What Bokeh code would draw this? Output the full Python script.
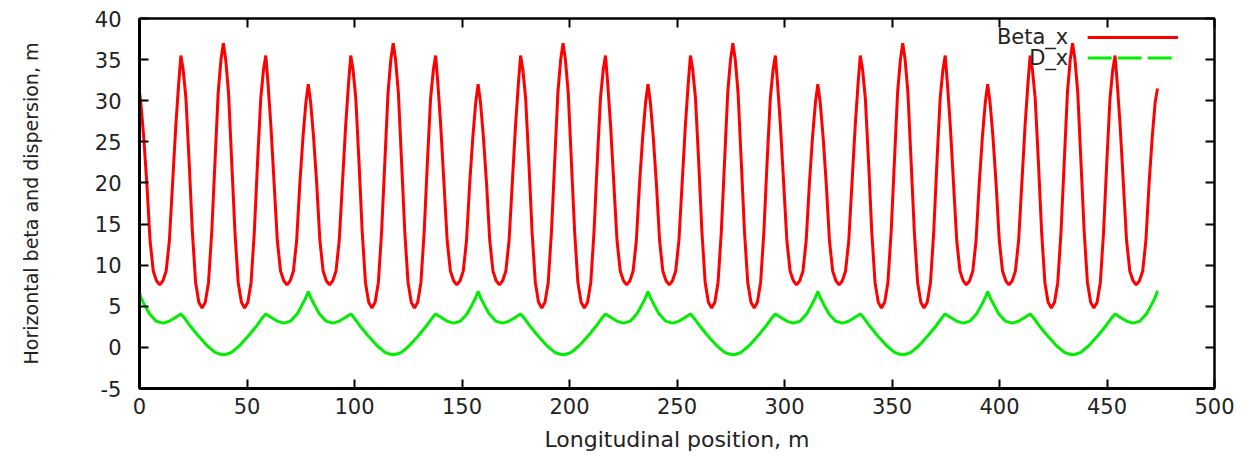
from bokeh.plotting import figure
from bokeh.models import Range1d, LinearAxis, FixedTicker, Label, Arrow
from bokeh.embed import file_html
from bokeh.resources import INLINE

# ---------------- data ----------------
x_ticks = [0, 50, 100, 150, 200, 250, 300, 350, 400, 450, 500]
y_ticks = [-5, 0, 5, 10, 15, 20, 25, 30, 35, 40]

# Horizontal beta function, m
beta_s = [
    0.0,
    0.6, 1.9, 3.4, 4.9, 6.4, 7.9, 9.4, 10.9, 12.4, 13.9, 15.4, 16.9, 18.2, 19.25,
    20.3, 21.6, 23.1, 24.6, 26.1, 27.6, 29.1, 30.6, 32.1, 33.6, 35.1, 36.6, 37.9, 39.0,
    40.1, 41.4, 42.9, 44.4, 45.9, 47.4, 48.9, 50.4, 51.9, 53.4, 54.9, 56.4, 57.7, 58.75,
    59.8, 61.1, 62.6, 64.1, 65.6, 67.1, 68.6, 70.1, 71.6, 73.1, 74.6, 76.1, 77.4, 78.5,
    79.6, 80.9, 82.4, 83.9, 85.4, 86.9, 88.4, 89.9, 91.4, 92.9, 94.4, 95.9, 97.2, 98.25,
    99.3, 100.6, 102.1, 103.6, 105.1, 106.6, 108.1, 109.6, 111.1, 112.6, 114.1, 115.6, 116.9, 118.0,
    119.1, 120.4, 121.9, 123.4, 124.9, 126.4, 127.9, 129.4, 130.9, 132.4, 133.9, 135.4, 136.7, 137.75,
    138.8, 140.1, 141.6, 143.1, 144.6, 146.1, 147.6, 149.1, 150.6, 152.1, 153.6, 155.1, 156.4, 157.5,
    158.6, 159.9, 161.4, 162.9, 164.4, 165.9, 167.4, 168.9, 170.4, 171.9, 173.4, 174.9, 176.2, 177.25,
    178.3, 179.6, 181.1, 182.6, 184.1, 185.6, 187.1, 188.6, 190.1, 191.6, 193.1, 194.6, 195.9, 197.0,
    198.1, 199.4, 200.9, 202.4, 203.9, 205.4, 206.9, 208.4, 209.9, 211.4, 212.9, 214.4, 215.7, 216.75,
    217.8, 219.1, 220.6, 222.1, 223.6, 225.1, 226.6, 228.1, 229.6, 231.1, 232.6, 234.1, 235.4, 236.5,
    237.6, 238.9, 240.4, 241.9, 243.4, 244.9, 246.4, 247.9, 249.4, 250.9, 252.4, 253.9, 255.2, 256.25,
    257.3, 258.6, 260.1, 261.6, 263.1, 264.6, 266.1, 267.6, 269.1, 270.6, 272.1, 273.6, 274.9, 276.0,
    277.1, 278.4, 279.9, 281.4, 282.9, 284.4, 285.9, 287.4, 288.9, 290.4, 291.9, 293.4, 294.7, 295.75,
    296.8, 298.1, 299.6, 301.1, 302.6, 304.1, 305.6, 307.1, 308.6, 310.1, 311.6, 313.1, 314.4, 315.5,
    316.6, 317.9, 319.4, 320.9, 322.4, 323.9, 325.4, 326.9, 328.4, 329.9, 331.4, 332.9, 334.2, 335.25,
    336.3, 337.6, 339.1, 340.6, 342.1, 343.6, 345.1, 346.6, 348.1, 349.6, 351.1, 352.6, 353.9, 355.0,
    356.1, 357.4, 358.9, 360.4, 361.9, 363.4, 364.9, 366.4, 367.9, 369.4, 370.9, 372.4, 373.7, 374.75,
    375.8, 377.1, 378.6, 380.1, 381.6, 383.1, 384.6, 386.1, 387.6, 389.1, 390.6, 392.1, 393.4, 394.5,
    395.6, 396.9, 398.4, 399.9, 401.4, 402.9, 404.4, 405.9, 407.4, 408.9, 410.4, 411.9, 413.2, 414.25,
    415.3, 416.6, 418.1, 419.6, 421.1, 422.6, 424.1, 425.6, 427.1, 428.6, 430.1, 431.6, 432.9, 434.0,
    435.1, 436.4, 437.9, 439.4, 440.9, 442.4, 443.9, 445.4, 446.9, 448.4, 449.9, 451.4, 452.7, 453.75,
    454.8, 456.1, 457.6, 459.1, 460.6, 462.1, 463.6, 465.1, 466.6, 468.1, 469.6, 471.1, 472.4, 473.5,
]
beta_x = [
    31.0,
    29.8, 25.8, 20.0, 13.0, 9.3, 8.1, 7.6, 8.1, 9.3, 13.0, 20.0, 27.0, 32.0, 35.5,
    33.8, 30.3, 22.5, 14.0, 7.9, 5.5, 4.8, 5.5, 7.9, 14.0, 22.5, 31.0, 35.0, 37.0,
    35.0, 31.0, 22.5, 14.0, 7.9, 5.5, 4.8, 5.5, 7.9, 14.0, 22.5, 30.3, 33.8, 35.5,
    32.0, 27.0, 20.0, 13.0, 9.3, 8.1, 7.6, 8.1, 9.3, 13.0, 20.0, 25.8, 29.8, 32.0,
    29.8, 25.8, 20.0, 13.0, 9.3, 8.1, 7.6, 8.1, 9.3, 13.0, 20.0, 27.0, 32.0, 35.5,
    33.8, 30.3, 22.5, 14.0, 7.9, 5.5, 4.8, 5.5, 7.9, 14.0, 22.5, 31.0, 35.0, 37.0,
    35.0, 31.0, 22.5, 14.0, 7.9, 5.5, 4.8, 5.5, 7.9, 14.0, 22.5, 30.3, 33.8, 35.5,
    32.0, 27.0, 20.0, 13.0, 9.3, 8.1, 7.6, 8.1, 9.3, 13.0, 20.0, 25.8, 29.8, 32.0,
    29.8, 25.8, 20.0, 13.0, 9.3, 8.1, 7.6, 8.1, 9.3, 13.0, 20.0, 27.0, 32.0, 35.5,
    33.8, 30.3, 22.5, 14.0, 7.9, 5.5, 4.8, 5.5, 7.9, 14.0, 22.5, 31.0, 35.0, 37.0,
    35.0, 31.0, 22.5, 14.0, 7.9, 5.5, 4.8, 5.5, 7.9, 14.0, 22.5, 30.3, 33.8, 35.5,
    32.0, 27.0, 20.0, 13.0, 9.3, 8.1, 7.6, 8.1, 9.3, 13.0, 20.0, 25.8, 29.8, 32.0,
    29.8, 25.8, 20.0, 13.0, 9.3, 8.1, 7.6, 8.1, 9.3, 13.0, 20.0, 27.0, 32.0, 35.5,
    33.8, 30.3, 22.5, 14.0, 7.9, 5.5, 4.8, 5.5, 7.9, 14.0, 22.5, 31.0, 35.0, 37.0,
    35.0, 31.0, 22.5, 14.0, 7.9, 5.5, 4.8, 5.5, 7.9, 14.0, 22.5, 30.3, 33.8, 35.5,
    32.0, 27.0, 20.0, 13.0, 9.3, 8.1, 7.6, 8.1, 9.3, 13.0, 20.0, 25.8, 29.8, 32.0,
    29.8, 25.8, 20.0, 13.0, 9.3, 8.1, 7.6, 8.1, 9.3, 13.0, 20.0, 27.0, 32.0, 35.5,
    33.8, 30.3, 22.5, 14.0, 7.9, 5.5, 4.8, 5.5, 7.9, 14.0, 22.5, 31.0, 35.0, 37.0,
    35.0, 31.0, 22.5, 14.0, 7.9, 5.5, 4.8, 5.5, 7.9, 14.0, 22.5, 30.3, 33.8, 35.5,
    32.0, 27.0, 20.0, 13.0, 9.3, 8.1, 7.6, 8.1, 9.3, 13.0, 20.0, 25.8, 29.8, 32.0,
    29.8, 25.8, 20.0, 13.0, 9.3, 8.1, 7.6, 8.1, 9.3, 13.0, 20.0, 27.0, 32.0, 35.5,
    33.8, 30.3, 22.5, 14.0, 7.9, 5.5, 4.8, 5.5, 7.9, 14.0, 22.5, 31.0, 35.0, 37.0,
    35.0, 31.0, 22.5, 14.0, 7.9, 5.5, 4.8, 5.5, 7.9, 14.0, 22.5, 30.3, 33.8, 35.5,
    32.0, 27.0, 20.0, 13.0, 9.3, 8.1, 7.6, 8.1, 9.3, 13.0, 20.0, 25.8, 29.8, 31.5,
]

# Horizontal dispersion, m
disp_s = [
    0.0, 0.7, 2.3, 4.6, 7.7, 10.9, 14.0, 16.5, 19.25, 21.1, 23.3, 27.0, 31.5, 35.2, 37.3,
    39.0, 40.7, 42.8, 46.5, 51.0, 54.7, 56.9, 58.75, 61.5, 64.0, 67.1, 70.3, 73.4, 75.7, 77.3,
    78.5, 79.7, 81.3, 83.6, 86.7, 89.9, 93.0, 95.5, 98.25, 100.1, 102.3, 106.0, 110.5, 114.2, 116.3,
    118.0, 119.7, 121.8, 125.5, 130.0, 133.7, 135.9, 137.75, 140.5, 143.0, 146.1, 149.3, 152.4, 154.7, 156.3,
    157.5, 158.7, 160.3, 162.6, 165.7, 168.9, 172.0, 174.5, 177.25, 179.1, 181.3, 185.0, 189.5, 193.2, 195.3,
    197.0, 198.7, 200.8, 204.5, 209.0, 212.7, 214.9, 216.75, 219.5, 222.0, 225.1, 228.3, 231.4, 233.7, 235.3,
    236.5, 237.7, 239.3, 241.6, 244.7, 247.9, 251.0, 253.5, 256.25, 258.1, 260.3, 264.0, 268.5, 272.2, 274.3,
    276.0, 277.7, 279.8, 283.5, 288.0, 291.7, 293.9, 295.75, 298.5, 301.0, 304.1, 307.3, 310.4, 312.7, 314.3,
    315.5, 316.7, 318.3, 320.6, 323.7, 326.9, 330.0, 332.5, 335.25, 337.1, 339.3, 343.0, 347.5, 351.2, 353.3,
    355.0, 356.7, 358.8, 362.5, 367.0, 370.7, 372.9, 374.75, 377.5, 380.0, 383.1, 386.3, 389.4, 391.7, 393.3,
    394.5, 395.7, 397.3, 399.6, 402.7, 405.9, 409.0, 411.5, 414.25, 416.1, 418.3, 422.0, 426.5, 430.2, 432.3,
    434.0, 435.7, 437.8, 441.5, 446.0, 449.7, 451.9, 453.75, 456.5, 459.0, 462.1, 465.3, 468.4, 470.7, 472.3,
    473.5,
]
disp_x = [
    6.7, 6.0, 5.2, 4.1, 3.2, 2.95, 3.2, 3.6, 4.05, 3.5, 2.7, 1.5, 0.2, -0.6, -0.8,
    -0.9, -0.8, -0.6, 0.2, 1.5, 2.7, 3.5, 4.05, 3.6, 3.2, 2.95, 3.2, 4.1, 5.2, 6.0,
    6.8, 6.0, 5.2, 4.1, 3.2, 2.95, 3.2, 3.6, 4.05, 3.5, 2.7, 1.5, 0.2, -0.6, -0.8,
    -0.9, -0.8, -0.6, 0.2, 1.5, 2.7, 3.5, 4.05, 3.6, 3.2, 2.95, 3.2, 4.1, 5.2, 6.0,
    6.8, 6.0, 5.2, 4.1, 3.2, 2.95, 3.2, 3.6, 4.05, 3.5, 2.7, 1.5, 0.2, -0.6, -0.8,
    -0.9, -0.8, -0.6, 0.2, 1.5, 2.7, 3.5, 4.05, 3.6, 3.2, 2.95, 3.2, 4.1, 5.2, 6.0,
    6.8, 6.0, 5.2, 4.1, 3.2, 2.95, 3.2, 3.6, 4.05, 3.5, 2.7, 1.5, 0.2, -0.6, -0.8,
    -0.9, -0.8, -0.6, 0.2, 1.5, 2.7, 3.5, 4.05, 3.6, 3.2, 2.95, 3.2, 4.1, 5.2, 6.0,
    6.8, 6.0, 5.2, 4.1, 3.2, 2.95, 3.2, 3.6, 4.05, 3.5, 2.7, 1.5, 0.2, -0.6, -0.8,
    -0.9, -0.8, -0.6, 0.2, 1.5, 2.7, 3.5, 4.05, 3.6, 3.2, 2.95, 3.2, 4.1, 5.2, 6.0,
    6.8, 6.0, 5.2, 4.1, 3.2, 2.95, 3.2, 3.6, 4.05, 3.5, 2.7, 1.5, 0.2, -0.6, -0.8,
    -0.9, -0.8, -0.6, 0.2, 1.5, 2.7, 3.5, 4.05, 3.6, 3.2, 2.95, 3.2, 4.1, 5.2, 6.0,
    6.9,
]

series_names = ["Beta_x", "D_x"]
series_colors = ["#ff0000", "#00ee00"]

# ---------------- style ----------------
FONT = "DejaVu Sans"
TXT = "#222222"

p = figure(
    width=1250, height=460,
    x_range=Range1d(0, 500), y_range=Range1d(-5, 40),
    output_backend="svg", toolbar_location=None,
    min_border_left=139, min_border_right=36,
    min_border_top=18, min_border_bottom=72,
    background_fill_color="white", border_fill_color="white",
)
p.xgrid.visible = False
p.ygrid.visible = False
p.outline_line_color = "black"
p.outline_line_width = 2

def style_axis(ax, ticks, show_labels=True, width=3):
    ax.ticker = FixedTicker(ticks=ticks)
    ax.major_tick_in = 9
    ax.major_tick_out = 0
    ax.minor_tick_line_color = None
    ax.major_tick_line_width = 2
    ax.major_tick_line_color = "black"
    ax.axis_line_width = width
    ax.axis_line_color = "black"
    ax.major_label_text_font = FONT
    if show_labels:
        ax.major_label_text_font_size = "21px"
        ax.major_label_text_color = TXT
    else:
        # mirrored tick marks only, as on the original frame
        ax.major_label_text_color = None
        ax.major_label_text_font_size = "1px"
        ax.major_label_standoff = 0

xa = p.xaxis[0]
style_axis(xa, x_ticks)
xa.major_label_standoff = 9
xa.axis_label = "Longitudinal position, m"
xa.axis_label_text_font = FONT
xa.axis_label_text_font_size = "22px"
xa.axis_label_text_font_style = "normal"
xa.axis_label_text_color = TXT
xa.axis_label_standoff = 10

ya = p.yaxis[0]
style_axis(ya, y_ticks)
ya.major_label_overrides = {-5: "-5"}
ya.major_label_standoff = 18
ya.axis_label = "Horizontal beta and dispersion, m"
ya.axis_label_text_font = FONT
ya.axis_label_text_font_size = "19px"
ya.axis_label_text_font_style = "normal"
ya.axis_label_text_color = TXT
ya.axis_label_standoff = 50

top = LinearAxis()
style_axis(top, x_ticks, show_labels=False, width=2)
p.add_layout(top, "above")
right = LinearAxis()
style_axis(right, y_ticks, show_labels=False, width=2)
p.add_layout(right, "right")

p.line(beta_s, beta_x, line_color=series_colors[0], line_width=3)
p.line(disp_s, disp_x, line_color=series_colors[1], line_width=3)

# key (text to the left of the sample line, as in the original)
key_text_x = 432.0
key_line_x0, key_line_x1 = 441.0, 483.0
key_rows_y = [37.7, 35.2]
key_dashes = ["solid", "24 6"]
for name, color, ky, dash in zip(series_names, series_colors, key_rows_y, key_dashes):
    p.add_layout(Label(x=key_text_x, y=ky, text=name, text_align="right",
                       text_baseline="middle", text_font=FONT,
                       text_font_size="21px", text_color=TXT))
    p.add_layout(Arrow(end=None, x_start=key_line_x0, y_start=ky,
                       x_end=key_line_x1, y_end=ky, line_color=color,
                       line_width=3, line_dash=dash))

open("out.html", "w").write(file_html(p, INLINE))
